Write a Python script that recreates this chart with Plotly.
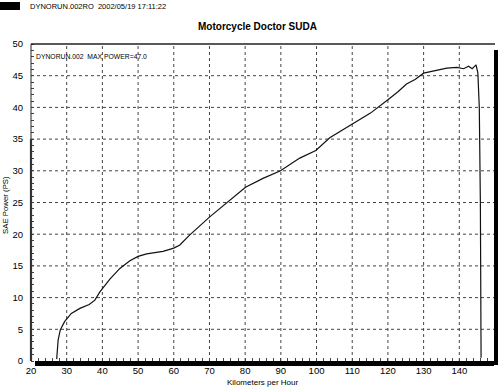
import plotly.graph_objects as go

# ---- data ----
speed_kmh = [27.2, 27.6, 28.2, 29.4, 31.3, 33.7, 36.3, 37.9, 39.3, 42.1, 44.9, 47.7,
             50.0, 52.4, 57.0, 60.0, 61.7, 64.5, 70.0, 74.8, 80.1, 85.0, 89.9, 95.3,
             99.8, 103.7, 110.0, 115.1, 120.0, 122.9, 125.2, 127.6, 130.0, 132.7,
             136.5, 139.3, 141.2, 142.6, 143.6, 144.7, 145.2, 145.6, 145.9, 146.1]
power_ps = [0.3, 3.3, 4.9, 6.2, 7.5, 8.3, 8.9, 9.6, 10.9, 12.9, 14.6, 15.8,
            16.5, 16.9, 17.3, 17.8, 18.3, 19.9, 22.7, 24.9, 27.4, 28.8, 30.0, 32.0,
            33.2, 35.2, 37.3, 39.1, 41.2, 42.5, 43.7, 44.4, 45.4, 45.7,
            46.2, 46.3, 46.1, 46.5, 46.1, 46.7, 45.4, 40.0, 25.0, 0.5]

x_ticks = [20, 30, 40, 50, 60, 70, 80, 90, 100, 110, 120, 130, 140, 150]
y_ticks = [0, 5, 10, 15, 20, 25, 30, 35, 40, 45, 50]

title_text = "Motorcycle Doctor SUDA"
header_text = "DYNORUN.002RO  2002/05/19 17:11:22"
note_text = "DYNORUN.002  MAX POWER=47.0"
x_title = "Kilometers per Hour"
y_title = "SAE Power (PS)"

# ---- layout geometry ----
W, H = 500, 390
ML, MR, MT, MB = 31, 5, 44, 29
PW, PH = W - ML - MR, H - MT - MB


def px(x):
    return (x - ML) / PW


def py(y):
    return (H - MB - y) / PH


FAM = "Liberation Sans, Arial, sans-serif"


def fnt(size, **kw):
    return dict(family=FAM, size=size, color="#000", **kw)


def nb(s):
    return s.replace("  ", "&nbsp;&nbsp;")


fig = go.Figure()
fig.add_trace(go.Scatter(x=speed_kmh, y=power_ps, mode="lines",
                         line=dict(color="#111", width=1.2),
                         hoverinfo="skip", showlegend=False))

axis_common = dict(showgrid=False, zeroline=False, showline=False, ticks="",
                   automargin=False, tickfont=fnt(9.5))
fig.update_layout(
    width=W, height=H,
    margin=dict(l=ML, r=MR, t=MT, b=MB, autoexpand=False),
    paper_bgcolor="white", plot_bgcolor="white",
    showlegend=False,
    xaxis=dict(range=[20, 150], tickvals=x_ticks, ticktext=[str(v) for v in x_ticks],
               ticklabelstandoff=2,
               minor=dict(dtick=2, ticks="inside", ticklen=3, tickcolor="#444"),
               **axis_common),
    yaxis=dict(range=[0, 50], tickvals=y_ticks, ticktext=[str(v) for v in y_ticks],
               ticklabelstandoff=7,
               minor=dict(dtick=1, ticks="inside", ticklen=3, tickcolor="#444"),
               **axis_common),
)

shapes = []
# dotted grid, in data coordinates
for xv in x_ticks[1:-1]:
    shapes.append(dict(type="line", xref="x", yref="y", x0=xv, x1=xv, y0=0, y1=50,
                       layer="below", line=dict(color="#444", width=1, dash="dot")))
for yv in y_ticks[1:-1]:
    shapes.append(dict(type="line", xref="x", yref="y", x0=20, x1=150, y0=yv, y1=yv,
                       layer="below", line=dict(color="#444", width=1, dash="dot")))
# top frame
shapes.append(dict(type="line", xref="paper", yref="paper", x0=0, x1=1, y0=1, y1=1,
                   line=dict(color="#222", width=1.3)))
# left frame
shapes.append(dict(type="line", xref="paper", yref="paper", x0=0, x1=0, y0=0, y1=1,
                   line=dict(color="#222", width=1)))
shapes.append(dict(type="line", xref="paper", yref="paper", x0=0, x1=0, y0=0, y1=0.7,
                   line=dict(color="#333", width=2.2)))
# bottom thick bar
shapes.append(dict(type="rect", xref="paper", yref="paper",
                   x0=px(35), x1=px(494), y0=py(366), y1=py(361),
                   fillcolor="black", line=dict(width=0)))
# right thick bar
shapes.append(dict(type="rect", xref="paper", yref="paper",
                   x0=px(494), x1=px(498), y0=py(365), y1=py(50),
                   fillcolor="black", line=dict(width=0)))
# header black block
shapes.append(dict(type="rect", xref="paper", yref="paper",
                   x0=px(0), x1=px(20), y0=py(10), y1=py(2),
                   fillcolor="black", line=dict(width=0)))
fig.update_layout(shapes=shapes)

annotations = [
    dict(text=nb(header_text), xref="paper", yref="paper",
         x=px(29), y=py(6.5),
         xanchor="left", yanchor="middle", showarrow=False, borderpad=0,
         font=fnt(7.5)),
    dict(text="<b>" + title_text + "</b>", xref="paper", yref="paper", x=px(257.5), y=py(27),
         xanchor="center", yanchor="middle", showarrow=False, borderpad=0,
         font=fnt(10)),
    dict(text=nb(note_text), xref="paper", yref="paper", x=px(35), y=py(56.5),
         xanchor="left", yanchor="middle", showarrow=False, borderpad=0,
         font=fnt(6.8)),
    dict(text=x_title, xref="paper", yref="paper", x=px(262), y=py(382),
         xanchor="center", yanchor="middle", showarrow=False, borderpad=0,
         font=fnt(8)),
    dict(text=y_title, xref="paper", yref="paper", x=px(6), y=py(205), textangle=-90,
         xanchor="center", yanchor="middle", showarrow=False, borderpad=0,
         font=fnt(7.8)),
]
fig.update_layout(annotations=annotations)

fig.write_html("out.html", config={"displayModeBar": False},
               post_script="document.body.style.margin='0';")
